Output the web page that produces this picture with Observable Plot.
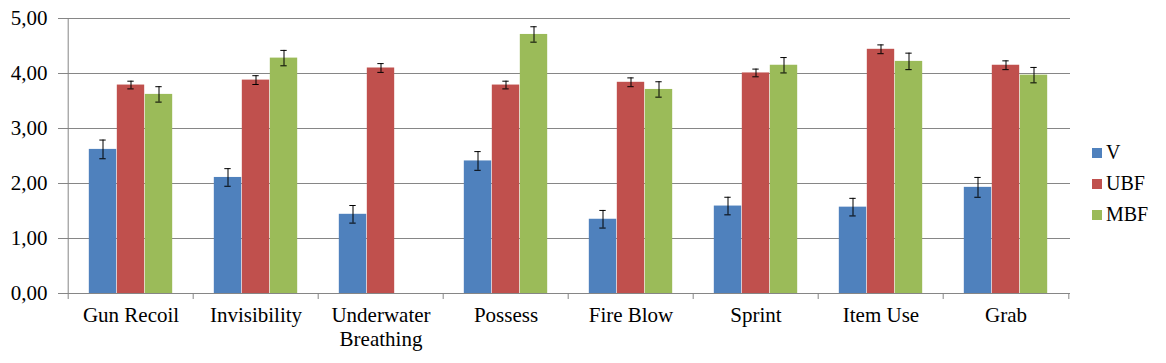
<!DOCTYPE html>
<html>
<head>
<meta charset="utf-8">
<script src="https://cdn.jsdelivr.net/npm/d3@7"></script>
<script src="https://cdn.jsdelivr.net/npm/@observablehq/plot@0.6"></script>
<style>
  body { margin: 0; background: #fff; }
  #wrap { position: relative; width: 1166px; height: 363px; font-family: 'Liberation Serif', serif; }
  #wrap svg, #wrap svg text { font-family: 'Liberation Serif', serif !important; }
  #legend { position: absolute; left: 1092px; top: 137px; font-size: 20px; color: #000; font-family: 'Liberation Serif', serif; }
  .item { display: flex; align-items: center; height: 31px; }
  .sw { width: 10px; height: 10px; margin-right: 4px; }
</style>
</head>
<body>
<div id="wrap"></div>
<script>
const categories = ["Gun Recoil", "Invisibility", "Underwater Breathing", "Possess", "Fire Blow", "Sprint", "Item Use", "Grab"];
const series = ["V", "UBF", "MBF"];
const colors = ["#4F81BD", "#C0504D", "#9BBB59"];
const vMeans   = [2.62, 2.11, 1.44, 2.41, 1.35, 1.59, 1.57, 1.93];
const vErr     = [0.17, 0.16, 0.16, 0.17, 0.16, 0.16, 0.16, 0.18];
const ubfMeans = [3.79, 3.88, 4.10, 3.79, 3.84, 4.01, 4.44, 4.15];
const ubfErr   = [0.07, 0.08, 0.08, 0.07, 0.08, 0.07, 0.08, 0.08];
const mbfMeans = [3.62, 4.28, null, 4.71, 3.71, 4.15, 4.22, 3.97];
const mbfErr   = [0.14, 0.14, null, 0.14, 0.14, 0.14, 0.15, 0.14];
const yTicks = [0, 1, 2, 3, 4, 5];

const means = [vMeans, ubfMeans, mbfMeans];
const errs = [vErr, ubfErr, mbfErr];
const rows = categories.flatMap((c, j) => series.map((s, i) => ({
  cat: c, series: s, i, value: means[i][j], err: errs[i][j]
}))).filter(d => d.value != null);

const W = 1166, H = 363, mL = 65, mR = 96, mT = 18, mB = 70;
const bw = (W - mL - mR) / categories.length;
const barW = 28, capW = 7;
const grey = "#868686";
const fmt = d => d3.format(".2f")(d).replace(".", ",");
const labelFmt = d => d === "Underwater Breathing" ? "Underwater\nBreathing" : d;

const marks = [
  Plot.ruleY(yTicks, {y: d => d, stroke: grey, strokeWidth: 1})
];
series.forEach((s, i) => {
  const data = rows.filter(d => d.i === i);
  const left = bw / 2 + (i - 1.5) * barW;
  const capLeft = bw / 2 + (i - 1) * barW - capW / 2;
  marks.push(
    Plot.barY(data, {x: "cat", y: "value", fill: colors[i], insetLeft: left, insetRight: bw - left - barW}),
    Plot.ruleX(data, {x: "cat", y1: d => d.value - d.err, y2: d => d.value + d.err, dx: (i - 1) * barW, stroke: "#000", strokeWidth: 1}),
    Plot.tickY(data, {x: "cat", y: d => d.value - d.err, insetLeft: capLeft, insetRight: bw - capLeft - capW, stroke: "#000", strokeWidth: 1}),
    Plot.tickY(data, {x: "cat", y: d => d.value + d.err, insetLeft: capLeft, insetRight: bw - capLeft - capW, stroke: "#000", strokeWidth: 1})
  );
});
marks.push(
  Plot.ruleX([categories[0]], {x: d => d, dx: -bw / 2, y1: 0, y2: 5, stroke: grey}),
  Plot.axisY({ticks: yTicks, tickFormat: fmt, tickSize: 7, tickPadding: 11, stroke: grey, fill: "#000", fontSize: 21}),
  Plot.axisX({ticks: categories, tickSize: 6, dx: -bw / 2, stroke: grey, fill: "none"}),
  Plot.axisX({ticks: [categories[categories.length - 1]], tickSize: 6, dx: bw / 2, stroke: grey, fill: "none"}),
  Plot.axisX({ticks: categories, tickSize: 0, tickPadding: 11, tickFormat: labelFmt, fill: "#000", stroke: "none", fontSize: 21, lineHeight: 1.15})
);

const chart = Plot.plot({
  width: W, height: H,
  marginLeft: mL, marginRight: mR, marginTop: mT, marginBottom: mB,
  style: {fontSize: "21px", color: "#000", background: "#fff"},
  x: {type: "band", domain: categories, padding: 0, label: null, axis: null},
  y: {domain: [0, 5], label: null, axis: null},
  marks
});
chart.setAttribute("font-family", "Liberation Serif");
const wrap = document.getElementById("wrap");
wrap.appendChild(chart);

const legend = document.createElement("div");
legend.id = "legend";
series.forEach((s, i) => {
  const item = document.createElement("div");
  item.className = "item";
  const sw = document.createElement("div");
  sw.className = "sw";
  sw.style.background = colors[i];
  const t = document.createElement("span");
  t.textContent = s;
  item.appendChild(sw);
  item.appendChild(t);
  legend.appendChild(item);
});
wrap.appendChild(legend);
</script>
</body>
</html>
